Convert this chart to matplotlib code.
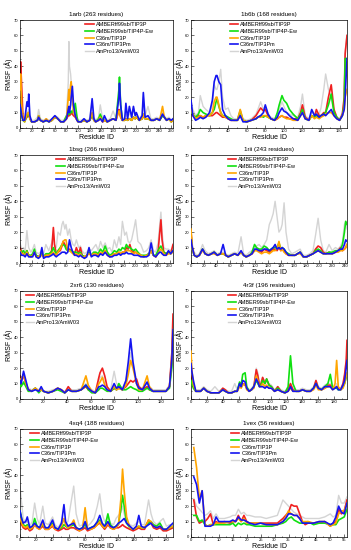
import matplotlib
matplotlib.use("Agg")
import matplotlib.pyplot as plt
from matplotlib.ticker import MultipleLocator

plt.rcParams['font.family'] = ['Liberation Sans', 'DejaVu Sans']

series_names = ['AMBERff99sb/TIP3P', 'AMBER99sb/TIP4P-Ew', 'C36m/TIP3P', 'C36m/TIP3Pm', 'AmPro13/AmW03']
series_colors = ['#f02020', '#10e010', '#ffa500', '#1414f0', '#d4d4d4']

# ---- 1arb (263 residues) ----
arb_x = [0, 1, 3, 5, 8, 12, 14, 15, 17, 20, 25, 30, 32, 35, 40, 45, 50, 55, 60, 65, 70, 75, 80, 83, 84, 85, 87, 88,
         90, 92, 95, 98, 100, 105, 110, 115, 120, 124, 127, 130, 135, 138, 142, 145, 150, 155, 160, 165, 170, 171,
         173, 176, 180, 182, 185, 188, 192, 195, 198, 200, 205, 210, 212, 215, 220, 225, 230, 235, 240, 245, 248,
         252, 256, 260, 263]
arb_red = [30, 43, 26, 8, 5, 7, 8, 9, 6, 4, 4, 5, 7, 5, 4, 5, 4, 5, 7, 6, 4, 4, 6, 8, 9, 8, 9, 10, 9, 8, 7, 5, 4, 4,
           5, 4, 5, 8, 5, 4, 5, 7, 4, 5, 4, 5, 6, 5, 12, 10, 7, 5, 5, 6, 5, 6, 5, 7, 6, 7, 5, 6, 8, 6, 6, 5, 5, 6, 5,
           8, 7, 5, 6, 4, 5]
arb_green = [12, 14, 8, 5, 4, 8, 9, 10, 6, 4, 4, 5, 8, 5, 4, 5, 4, 5, 7, 6, 4, 4, 8, 9, 10, 9, 10, 11, 10, 12, 16, 7,
             4, 4, 5, 4, 5, 9, 5, 4, 6, 9, 5, 5, 4, 5, 6, 5, 25, 33, 15, 5, 5, 6, 5, 6, 5, 7, 6, 7, 5, 6, 9, 6, 6, 5,
             5, 6, 5, 8, 7, 5, 6, 4, 5]
arb_orange = [25, 35, 15, 6, 4, 9, 10, 10, 6, 4, 4, 5, 8, 5, 4, 6, 4, 5, 7, 6, 4, 4, 6, 20, 25, 18, 28, 30, 20, 10, 8,
              5, 4, 4, 5, 4, 5, 10, 5, 4, 5, 7, 4, 5, 4, 5, 6, 5, 11, 11, 7, 5, 5, 6, 5, 6, 5, 7, 6, 7, 5, 6, 9, 6, 6,
              5, 5, 6, 5, 14, 7, 5, 6, 4, 5]
arb_blue = [15, 13, 8, 5, 5, 17, 14, 22, 8, 4, 4, 5, 7, 5, 4, 5, 4, 6, 8, 6, 4, 4, 6, 12, 14, 10, 15, 20, 27, 15, 8,
            5, 4, 4, 6, 4, 5, 19, 6, 4, 5, 6, 4, 8, 4, 5, 6, 5, 20, 29, 15, 5, 6, 16, 6, 14, 7, 14, 8, 10, 5, 8, 23,
            7, 8, 5, 5, 6, 5, 9, 7, 5, 6, 5, 6]
arb_gray = [20, 22, 12, 7, 5, 10, 11, 12, 7, 5, 5, 7, 12, 6, 5, 6, 5, 6, 8, 7, 5, 5, 8, 30, 56, 40, 35, 30, 22, 15,
            12, 7, 5, 5, 6, 5, 6, 15, 7, 5, 7, 15, 6, 7, 5, 6, 11, 6, 22, 30, 15, 6, 7, 9, 6, 10, 6, 13, 8, 9, 6, 9,
            20, 8, 14, 6, 6, 7, 6, 10, 8, 6, 7, 5, 6]

# ---- 1b6b (168 residues) ----
b6b_x = [0, 2, 5, 8, 10, 13, 16, 20, 23, 25, 27, 28, 30, 32, 34, 37, 40, 43, 46, 50, 53, 56, 60, 65, 70, 72, 75, 78,
         80, 83, 86, 90, 93, 95, 98, 100, 103, 106, 110, 115, 118, 120, 123, 127, 130, 133, 135, 138, 140, 143, 145,
         148, 151, 154, 157, 160, 163, 165, 166, 168]
b6b_red = [10, 8, 7, 8, 8, 7, 8, 8, 8, 9, 10, 10, 9, 8, 7, 7, 6, 5, 5, 5, 8, 5, 4, 5, 8, 10, 13, 11, 12, 8, 6, 5, 6,
           7, 8, 7, 7, 6, 6, 6, 10, 15, 7, 5, 8, 7, 12, 8, 8, 10, 10, 20, 28, 12, 7, 5, 9, 20, 48, 60]
b6b_green = [10, 9, 7, 9, 12, 10, 9, 8, 10, 12, 17, 19, 14, 10, 8, 8, 7, 6, 5, 5, 11, 5, 4, 5, 6, 7, 8, 7, 8, 7, 6,
             5, 10, 15, 21, 18, 16, 12, 9, 6, 9, 12, 6, 5, 8, 7, 8, 7, 8, 9, 10, 15, 22, 10, 7, 5, 8, 15, 45, 45]
b6b_orange = [12, 9, 6, 7, 8, 7, 8, 8, 10, 17, 20, 20, 15, 10, 8, 7, 6, 5, 5, 5, 12, 5, 4, 5, 6, 7, 7, 8, 8, 7, 6, 5,
              6, 7, 8, 7, 6, 6, 5, 5, 8, 10, 6, 5, 8, 6, 7, 6, 7, 8, 9, 10, 10, 8, 6, 5, 8, 12, 20, 25]
b6b_blue = [18, 8, 5, 6, 7, 6, 7, 10, 18, 30, 34, 34, 30, 28, 12, 8, 6, 5, 5, 5, 8, 4, 4, 5, 6, 7, 8, 10, 15, 9, 6,
            5, 7, 10, 13, 11, 10, 8, 6, 5, 8, 10, 6, 5, 12, 8, 9, 7, 8, 9, 8, 10, 12, 8, 6, 5, 8, 12, 20, 45]
b6b_gray = [18, 12, 8, 10, 21, 14, 12, 10, 15, 28, 25, 25, 30, 38, 20, 12, 13, 8, 6, 6, 12, 6, 5, 6, 9, 12, 17, 12,
            14, 9, 7, 6, 9, 12, 17, 14, 10, 9, 8, 7, 14, 22, 8, 6, 10, 9, 10, 9, 13, 25, 35, 25, 20, 10, 7, 6, 10,
            18, 50, 60]

# ---- 1bsg (266 residues) ----
bsg_x = [0, 3, 6, 9, 12, 15, 19, 22, 25, 28, 32, 35, 38, 41, 45, 50, 55, 58, 60, 63, 66, 70, 73, 75, 78, 80, 83, 86,
         89, 92, 95, 98, 102, 105, 108, 112, 116, 120, 124, 128, 132, 136, 140, 144, 148, 152, 156, 160, 164, 168,
         172, 175, 178, 182, 185, 188, 191, 194, 198, 201, 205, 210, 215, 220, 224, 228, 232, 236, 240, 243, 245,
         247, 250, 254, 258, 262, 266]
bsg_red = [10, 7, 6, 5, 8, 5, 4, 5, 7, 5, 4, 5, 5, 4, 5, 5, 8, 23, 12, 6, 7, 8, 11, 14, 12, 10, 8, 9, 8, 7, 6, 10, 6,
           10, 5, 4, 5, 6, 5, 6, 6, 5, 6, 6, 8, 6, 4, 5, 6, 6, 7, 6, 7, 7, 10, 9, 12, 8, 7, 7, 6, 5, 4, 5, 6, 8, 5,
           4, 7, 20, 28, 15, 7, 6, 7, 6, 12]
bsg_green = [8, 7, 8, 6, 8, 5, 5, 6, 9, 5, 4, 5, 6, 4, 6, 6, 7, 10, 8, 6, 8, 10, 12, 12, 11, 9, 8, 8, 8, 7, 7, 7, 6,
             7, 5, 4, 5, 7, 5, 7, 7, 6, 9, 7, 11, 7, 5, 6, 8, 7, 9, 8, 10, 9, 12, 10, 10, 9, 8, 9, 7, 5, 5, 5, 6, 8, 5,
             5, 8, 10, 11, 9, 7, 6, 7, 6, 8]
bsg_orange = [8, 6, 6, 5, 7, 5, 4, 5, 7, 4, 4, 5, 5, 4, 5, 5, 6, 7, 6, 5, 7, 9, 12, 14, 15, 15, 8, 8, 7, 6, 5, 6, 5,
              6, 4, 4, 5, 6, 5, 6, 6, 5, 7, 6, 8, 5, 4, 5, 6, 6, 7, 6, 7, 7, 8, 8, 8, 7, 6, 7, 6, 5, 4, 5, 5, 8, 5, 4,
              6, 8, 9, 8, 6, 5, 6, 6, 7]
bsg_blue = [7, 5, 5, 4, 6, 4, 4, 4, 7, 4, 3, 4, 10, 3, 4, 4, 5, 6, 5, 4, 5, 6, 7, 7, 7, 6, 7, 15, 10, 7, 5, 5, 4, 5,
            4, 3, 4, 10, 4, 5, 5, 4, 6, 5, 7, 5, 4, 4, 5, 5, 6, 5, 6, 6, 7, 6, 6, 6, 5, 5, 5, 4, 4, 4, 5, 13, 5, 4,
            6, 7, 7, 6, 5, 5, 8, 6, 8]
bsg_gray = [13, 9, 10, 8, 21, 10, 7, 9, 12, 7, 6, 7, 8, 6, 12, 8, 13, 17, 12, 10, 20, 18, 25, 27, 22, 25, 18, 22, 15,
            12, 11, 15, 10, 11, 8, 6, 7, 9, 8, 10, 12, 8, 14, 10, 13, 9, 10, 7, 15, 10, 17, 12, 27, 18, 20, 14, 13,
            15, 22, 28, 14, 12, 7, 8, 10, 15, 8, 7, 13, 25, 33, 20, 10, 9, 9, 8, 10]

# ---- 1rii (243 residues) ----
rii_x = [0, 2, 5, 9, 13, 18, 22, 27, 32, 36, 41, 46, 50, 54, 58, 63, 68, 73, 78, 82, 86, 91, 95, 99, 102, 106, 110,
         114, 118, 122, 125, 128, 131, 134, 137, 140, 142, 145, 148, 152, 157, 162, 166, 170, 175, 180, 185, 190, 194,
         198, 202, 206, 210, 215, 220, 225, 229, 233, 236, 239, 241, 243]
rii_red = [20, 10, 5, 4, 5, 9, 6, 5, 6, 7, 5, 6, 6, 5, 4, 5, 6, 5, 7, 5, 4, 5, 6, 8, 9, 8, 7, 9, 8, 7, 8, 9, 9, 8,
           10, 8, 9, 8, 6, 5, 5, 5, 6, 7, 4, 4, 5, 6, 9, 11, 10, 7, 6, 7, 6, 7, 8, 10, 8, 9, 10, 12]
rii_green = [18, 9, 5, 4, 5, 9, 6, 5, 6, 7, 5, 6, 6, 5, 4, 5, 6, 5, 7, 5, 4, 5, 7, 12, 10, 9, 9, 11, 10, 8, 9, 10,
             10, 10, 13, 9, 10, 9, 7, 6, 5, 5, 6, 7, 4, 4, 5, 6, 8, 9, 8, 6, 6, 7, 7, 8, 8, 9, 12, 20, 27, 25]
rii_orange = [22, 9, 5, 4, 5, 8, 6, 5, 6, 6, 5, 6, 6, 5, 4, 5, 6, 5, 7, 5, 4, 5, 6, 8, 8, 7, 6, 7, 7, 6, 7, 8, 8, 9,
              14, 8, 9, 7, 6, 5, 5, 5, 6, 6, 4, 4, 5, 6, 7, 8, 7, 6, 6, 6, 6, 7, 7, 8, 8, 9, 10, 12]
rii_blue = [15, 10, 5, 4, 5, 9, 6, 5, 6, 7, 5, 6, 12, 5, 4, 5, 6, 5, 8, 5, 4, 5, 6, 9, 9, 8, 8, 9, 9, 8, 9, 10, 12, 9,
            10, 9, 10, 9, 7, 5, 5, 5, 6, 7, 4, 4, 5, 6, 7, 8, 7, 6, 6, 6, 6, 7, 8, 9, 9, 12, 15, 14]
rii_gray = [22, 12, 7, 5, 6, 12, 8, 6, 7, 8, 6, 7, 7, 6, 5, 6, 7, 6, 17, 6, 5, 7, 8, 10, 11, 12, 10, 12, 15, 25, 28,
            32, 40, 30, 20, 22, 25, 39, 20, 9, 6, 7, 8, 9, 5, 5, 6, 8, 18, 29, 15, 8, 7, 12, 8, 10, 9, 11, 14, 25,
            27, 22]

# ---- 2xr6 (130 residues) ----
xr6_x = [0, 1, 3, 5, 7, 10, 13, 16, 18, 20, 24, 28, 32, 35, 38, 41, 44, 48, 52, 56, 58, 61, 64, 67, 68, 70, 72, 74,
         77, 80, 82, 84, 87, 90, 92, 94, 96, 99, 101, 104, 108, 110, 113, 116, 120, 124, 127, 129, 130]
xr6_red = [15, 12, 15, 10, 6, 5, 7, 5, 6, 5, 4, 5, 7, 6, 4, 8, 5, 5, 6, 8, 6, 5, 4, 14, 17, 20, 15, 8, 5, 7, 6, 7, 6,
           8, 10, 12, 11, 13, 8, 6, 8, 6, 5, 5, 5, 5, 8, 30, 55]
xr6_green = [9, 8, 11, 8, 5, 5, 7, 4, 6, 5, 4, 5, 6, 5, 4, 6, 5, 5, 6, 9, 6, 4, 4, 6, 7, 7, 6, 5, 5, 7, 6, 10, 6, 6,
             7, 8, 7, 6, 5, 5, 7, 6, 5, 5, 5, 5, 7, 20, 30]
xr6_orange = [13, 12, 16, 10, 6, 5, 7, 5, 6, 5, 4, 5, 7, 6, 4, 6, 5, 5, 6, 15, 9, 5, 4, 10, 11, 14, 9, 6, 5, 8, 6, 7,
              6, 9, 16, 25, 20, 10, 6, 6, 15, 8, 5, 5, 5, 5, 8, 25, 45]
xr6_blue = [12, 10, 18, 12, 6, 5, 6, 5, 8, 5, 4, 5, 7, 6, 4, 6, 5, 5, 6, 9, 7, 5, 4, 8, 8, 9, 8, 6, 5, 10, 7, 8, 6,
            12, 24, 39, 24, 10, 7, 6, 11, 7, 5, 5, 5, 5, 8, 25, 45]
xr6_gray = [15, 13, 16, 11, 7, 6, 7, 6, 7, 5, 5, 6, 7, 6, 5, 7, 6, 6, 7, 10, 8, 6, 5, 12, 14, 15, 10, 7, 6, 18, 10, 9,
            7, 12, 20, 30, 22, 12, 8, 7, 10, 8, 6, 6, 6, 6, 9, 30, 50]

# ---- 4r3f (196 residues) ----
r3f_x = [0, 1, 3, 6, 9, 12, 16, 20, 25, 30, 35, 40, 43, 47, 51, 55, 58, 61, 63, 65, 68, 70, 73, 76, 79, 82, 84, 86,
         88, 90, 93, 95, 98, 101, 105, 109, 113, 118, 122, 125, 128, 132, 136, 140, 145, 150, 154, 157, 160, 164, 168,
         172, 175, 178, 181, 183, 185, 188, 191, 193, 195, 196]
r3f_red = [15, 12, 8, 5, 5, 5, 7, 5, 4, 4, 4, 7, 6, 4, 4, 5, 5, 9, 8, 10, 9, 7, 5, 6, 8, 19, 15, 9, 10, 14, 10, 13,
           9, 8, 5, 8, 5, 4, 6, 10, 6, 5, 5, 6, 5, 5, 7, 12, 7, 6, 7, 9, 9, 7, 7, 8, 7, 6, 10, 16, 25, 38]
r3f_green = [12, 10, 7, 5, 5, 5, 7, 5, 4, 4, 4, 6, 5, 4, 4, 5, 5, 11, 9, 16, 17, 8, 5, 6, 8, 12, 10, 8, 9, 12, 10,
             13, 9, 8, 5, 7, 5, 4, 8, 28, 10, 5, 5, 6, 5, 5, 7, 10, 7, 6, 8, 10, 16, 7, 7, 7, 6, 6, 8, 10, 14, 15]
r3f_orange = [31, 20, 9, 5, 5, 5, 7, 5, 4, 4, 4, 6, 5, 4, 4, 5, 5, 8, 7, 9, 10, 6, 5, 6, 7, 15, 12, 8, 8, 10, 8, 9,
              7, 7, 5, 6, 5, 4, 5, 7, 5, 5, 5, 6, 5, 5, 6, 9, 6, 6, 7, 8, 8, 6, 10, 25, 8, 6, 7, 10, 15, 17]
r3f_blue = [23, 18, 12, 5, 5, 5, 7, 5, 4, 4, 4, 6, 5, 4, 4, 5, 5, 10, 8, 12, 11, 7, 5, 6, 8, 13, 11, 8, 8, 8, 7, 8, 7,
            7, 5, 6, 5, 4, 5, 8, 5, 5, 5, 6, 5, 5, 7, 10, 7, 6, 8, 8, 8, 6, 7, 8, 6, 6, 9, 12, 20, 25]
r3f_gray = [20, 16, 10, 6, 6, 6, 8, 6, 5, 8, 5, 7, 6, 5, 5, 10, 6, 10, 9, 12, 12, 8, 6, 7, 9, 20, 17, 10, 11, 14, 11,
            12, 10, 9, 6, 8, 6, 5, 7, 10, 7, 6, 6, 7, 6, 6, 8, 12, 8, 7, 9, 10, 10, 8, 8, 10, 7, 7, 10, 15, 25, 30]

# ---- 4xq4 (188 residues) ----
xq4_x = [0, 2, 4, 7, 9, 12, 15, 18, 21, 24, 28, 31, 35, 40, 43, 47, 51, 54, 56, 59, 62, 66, 69, 73, 77, 80, 83, 87,
         91, 95, 98, 101, 104, 108, 111, 115, 118, 121, 124, 126, 128, 131, 135, 139, 143, 146, 149, 153, 158, 161,
         164, 168, 172, 176, 180, 184, 188]
xq4_red = [10, 8, 6, 5, 6, 4, 5, 8, 6, 5, 7, 5, 5, 7, 5, 4, 5, 6, 5, 5, 6, 6, 5, 4, 5, 6, 4, 5, 6, 8, 9, 7, 5, 8, 6,
           5, 6, 6, 7, 8, 7, 6, 5, 4, 5, 6, 5, 5, 11, 9, 6, 5, 6, 4, 4, 5, 6]
xq4_green = [17, 12, 8, 7, 8, 5, 6, 12, 7, 6, 8, 6, 6, 9, 6, 5, 6, 8, 7, 6, 7, 8, 6, 5, 6, 8, 5, 6, 7, 9, 11, 8, 6,
             15, 8, 6, 7, 8, 18, 27, 20, 9, 6, 5, 6, 7, 6, 6, 9, 10, 8, 7, 9, 5, 5, 6, 7]
xq4_orange = [12, 9, 7, 6, 7, 5, 6, 8, 6, 5, 9, 5, 5, 8, 5, 5, 7, 12, 8, 6, 7, 11, 6, 4, 6, 19, 5, 5, 6, 8, 10, 7, 6,
              9, 6, 5, 6, 8, 25, 44, 30, 13, 6, 5, 6, 7, 6, 6, 11, 10, 7, 6, 7, 5, 5, 6, 7]
xq4_blue = [17, 12, 9, 10, 13, 6, 7, 9, 7, 6, 11, 6, 6, 11, 6, 5, 9, 21, 10, 7, 8, 9, 6, 5, 6, 10, 5, 6, 7, 10, 14, 9,
            7, 10, 7, 6, 7, 9, 10, 11, 12, 9, 7, 5, 7, 14, 7, 6, 8, 9, 7, 6, 7, 5, 5, 7, 9]
xq4_gray = [33, 22, 12, 9, 10, 7, 10, 22, 12, 8, 20, 9, 8, 13, 8, 6, 10, 12, 9, 10, 20, 33, 15, 7, 8, 15, 7, 9, 12, 20,
            28, 15, 10, 12, 9, 8, 12, 14, 16, 20, 15, 10, 8, 7, 9, 10, 8, 8, 24, 15, 10, 8, 10, 12, 7, 8, 8]

# ---- 1vex (56 residues) ----
vex_x = [1, 2, 3, 4, 5, 6, 7, 8, 9, 10, 12, 14, 15, 16, 17, 18, 19, 20, 21, 23, 25, 27, 29, 31, 33, 34, 35, 36, 37, 38,
         39, 40, 41, 42, 44, 46, 48, 50, 51, 52, 53, 54, 55, 56]
vex_red = [24, 13, 9, 10, 10, 12, 15, 8, 10, 9, 10, 9, 10, 10, 14, 10, 14, 10, 9, 9, 9, 9, 9, 9, 12, 14, 16, 21, 20,
           20, 15, 10, 8, 9, 9, 9, 10, 7, 9, 10, 18, 15, 17, 24]
vex_green = [14, 14, 10, 11, 8, 7, 8, 8, 8, 8, 8, 8, 9, 7, 9, 8, 9, 8, 8, 7, 7, 7, 7, 8, 9, 10, 12, 13, 11, 10, 9, 9,
             9, 10, 8, 9, 9, 8, 8, 8, 11, 12, 13, 18]
vex_orange = [58, 45, 25, 30, 8, 7, 8, 8, 9, 9, 9, 10, 10, 10, 12, 10, 12, 9, 9, 9, 9, 8, 8, 8, 10, 13, 17, 15, 14,
              14, 12, 10, 10, 10, 9, 10, 10, 7, 8, 9, 15, 17, 17, 22]
vex_blue = [39, 34, 22, 30, 7, 7, 7, 8, 13, 10, 10, 10, 11, 10, 13, 11, 11, 10, 9, 8, 9, 8, 8, 8, 10, 12, 15, 15, 14,
            14, 12, 9, 9, 9, 9, 10, 10, 8, 9, 13, 20, 16, 15, 22]
vex_gray = [25, 20, 18, 16, 14, 15, 17, 12, 15, 12, 12, 13, 14, 14, 18, 15, 16, 14, 14, 13, 13, 12, 13, 14, 24, 22,
            20, 18, 16, 15, 14, 13, 12, 12, 12, 12, 13, 15, 13, 14, 27, 22, 22, 26]

panels = [
    ('1arb (263 residues)', arb_x, [arb_red, arb_green, arb_orange, arb_blue, arb_gray], 263, 20, 0.42),
    ('1b6b (168 residues)', b6b_x, [b6b_red, b6b_green, b6b_orange, b6b_blue, b6b_gray], 168, 20, 0.24),
    ('1bsg (266 residues)', bsg_x, [bsg_red, bsg_green, bsg_orange, bsg_blue, bsg_gray], 266, 20, 0.23),
    ('1rii (243 residues)', rii_x, [rii_red, rii_green, rii_orange, rii_blue, rii_gray], 243, 20, 0.23),
    ('2xr6 (130 residues)', xr6_x, [xr6_red, xr6_green, xr6_orange, xr6_blue, xr6_gray], 130, 20, 0.03),
    ('4r3f (196 residues)', r3f_x, [r3f_red, r3f_green, r3f_orange, r3f_blue, r3f_gray], 196, 20, 0.23),
    ('4xq4 (188 residues)', xq4_x, [xq4_red, xq4_green, xq4_orange, xq4_blue, xq4_gray], 188, 20, 0.06),
    ('1vex (56 residues)', vex_x, [vex_red, vex_green, vex_orange, vex_blue, vex_gray], 56, 5, 0.25),
]

fig = plt.figure(figsize=(3.51, 5.5), dpi=100)

col_left = [20 / 351, 191 / 351]
col_width = [153 / 351, 156 / 351]
row_bottom = [1 - 128 / 550, 1 - 263 / 550, 1 - 399 / 550, 1 - 537 / 550]
row_height = 108 / 550

for i, (title, x, ys, xmax, xstep, leg_x) in enumerate(panels):
    r, c = divmod(i, 2)
    ax = fig.add_axes([col_left[c], row_bottom[r], col_width[c], row_height])
    # gray series at the back
    ax.plot(x, ys[4], color=series_colors[4], lw=1.0, zorder=1)
    handles = []
    for k in range(4):
        h, = ax.plot(x, ys[k], color=series_colors[k], lw=1.2, zorder=2 + k)
        handles.append(h)
    gh, = ax.plot([], [], color=series_colors[4], lw=1.0)
    handles.append(gh)

    ax.set_xlim(0, xmax)
    ax.set_ylim(0, 70)
    ax.xaxis.set_major_locator(MultipleLocator(xstep))
    ax.xaxis.set_minor_locator(MultipleLocator(xstep / 2))
    ax.yaxis.set_major_locator(MultipleLocator(10))
    ax.yaxis.set_minor_locator(MultipleLocator(5))
    ax.tick_params(which='both', direction='in', labelsize=3, pad=1, width=0.4)
    ax.tick_params(which='major', length=2)
    ax.tick_params(which='minor', length=1)
    for s in ax.spines.values():
        s.set_linewidth(0.5)

    ax.set_title(title, fontsize=4.5, pad=3)
    ax.set_xlabel('Residue ID', fontsize=5, labelpad=0.5)
    ax.set_ylabel('RMSF (Å)', fontsize=5, labelpad=1)

    ax.legend(handles, series_names, loc='upper left', bbox_to_anchor=(leg_x, 0.99), frameon=False,
              fontsize=4, handlelength=1.5, handletextpad=0.35, labelspacing=0.3, borderpad=0.2,
              borderaxespad=0)

fig.savefig('out.png', dpi=100)
